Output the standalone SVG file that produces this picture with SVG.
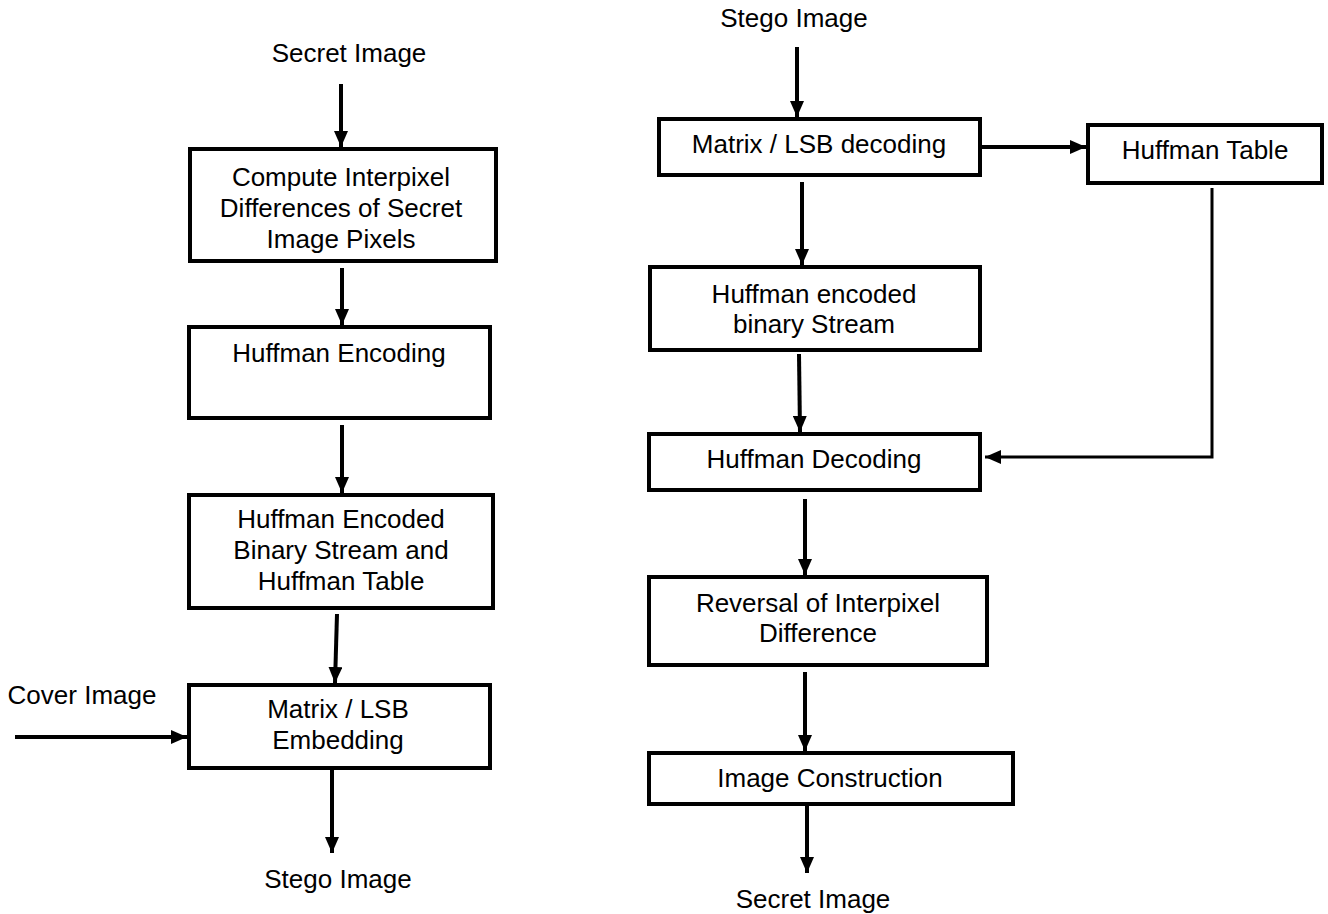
<svg xmlns="http://www.w3.org/2000/svg" width="1328" height="914" viewBox="0 0 1328 914">
<style>
.box{fill:#fff;stroke:#000;stroke-width:4}
.t{font-family:"Liberation Sans",Arial,sans-serif;font-size:26px;fill:#000;text-anchor:middle}
.c{stroke:#000;stroke-width:4;fill:none;marker-end:url(#ah)}
.thin{stroke-width:3}
</style>
<defs>
<marker id="ah" markerUnits="userSpaceOnUse" markerWidth="16" markerHeight="14" refX="16" refY="7" orient="auto">
<path d="M0,0 L16,7 L0,14 z" fill="#000"/>
</marker>
</defs>
<rect width="1328" height="914" fill="#fff"/>
<g id="connectors">
<line class="c" x1="341" y1="84" x2="341" y2="147"/>
<line class="c" x1="342" y1="268" x2="342" y2="325"/>
<line class="c" x1="342" y1="425" x2="342" y2="493"/>
<line class="c" x1="337" y1="614" x2="335" y2="683"/>
<line class="c" x1="15" y1="737" x2="187" y2="737"/>
<line class="c" x1="332" y1="770" x2="332" y2="853"/>
<line class="c" x1="797" y1="47" x2="797" y2="117"/>
<line class="c" x1="982" y1="147" x2="1086" y2="147"/>
<line class="c" x1="802" y1="182" x2="802" y2="265"/>
<line class="c" x1="799" y1="354" x2="800" y2="432"/>
<polyline class="c thin" points="1212,188 1212,457 985,457"/>
<line class="c" x1="805" y1="499" x2="805" y2="575"/>
<line class="c" x1="805" y1="672" x2="805" y2="751"/>
<line class="c" x1="807" y1="806" x2="807" y2="873"/>
</g>
<g id="lbl-secret-in"><text class="t" x="349" y="62">Secret Image</text></g>
<g id="n-compute"><rect class="box" x="190" y="149" width="306" height="112"/>
<text class="t" x="341" y="186">Compute Interpixel</text>
<text class="t" x="341" y="217">Differences of Secret</text>
<text class="t" x="341" y="248">Image Pixels</text></g>
<g id="n-hencode"><rect class="box" x="189" y="327" width="301" height="91"/>
<text class="t" x="339" y="362">Huffman Encoding</text></g>
<g id="n-hstream"><rect class="box" x="189" y="495" width="304" height="113"/>
<text class="t" x="341" y="528">Huffman Encoded</text>
<text class="t" x="341" y="559">Binary Stream and</text>
<text class="t" x="341" y="590">Huffman Table</text></g>
<g id="n-embed"><rect class="box" x="189" y="685" width="301" height="83"/>
<text class="t" x="338" y="718">Matrix / LSB</text>
<text class="t" x="338" y="749">Embedding</text></g>
<g id="lbl-cover"><text class="t" x="82" y="704">Cover Image</text></g>
<g id="lbl-stego-out"><text class="t" x="338" y="888">Stego Image</text></g>
<g id="lbl-stego-in"><text class="t" x="794" y="27">Stego Image</text></g>
<g id="n-decode"><rect class="box" x="659" y="119" width="321" height="56"/>
<text class="t" x="819" y="153">Matrix / LSB decoding</text></g>
<g id="n-htable"><rect class="box" x="1088" y="125" width="234" height="58"/>
<text class="t" x="1205" y="159">Huffman Table</text></g>
<g id="n-hbin"><rect class="box" x="650" y="267" width="330" height="83"/>
<text class="t" x="814" y="303">Huffman encoded</text>
<text class="t" x="814" y="333">binary Stream</text></g>
<g id="n-hdecode"><rect class="box" x="649" y="434" width="331" height="56"/>
<text class="t" x="814" y="468">Huffman Decoding</text></g>
<g id="n-reversal"><rect class="box" x="649" y="577" width="338" height="88"/>
<text class="t" x="818" y="612">Reversal of Interpixel</text>
<text class="t" x="818" y="642">Difference</text></g>
<g id="n-construct"><rect class="box" x="649" y="753" width="364" height="51"/>
<text class="t" x="830" y="787">Image Construction</text></g>
<g id="lbl-secret-out"><text class="t" x="813" y="908">Secret Image</text></g>
</svg>
